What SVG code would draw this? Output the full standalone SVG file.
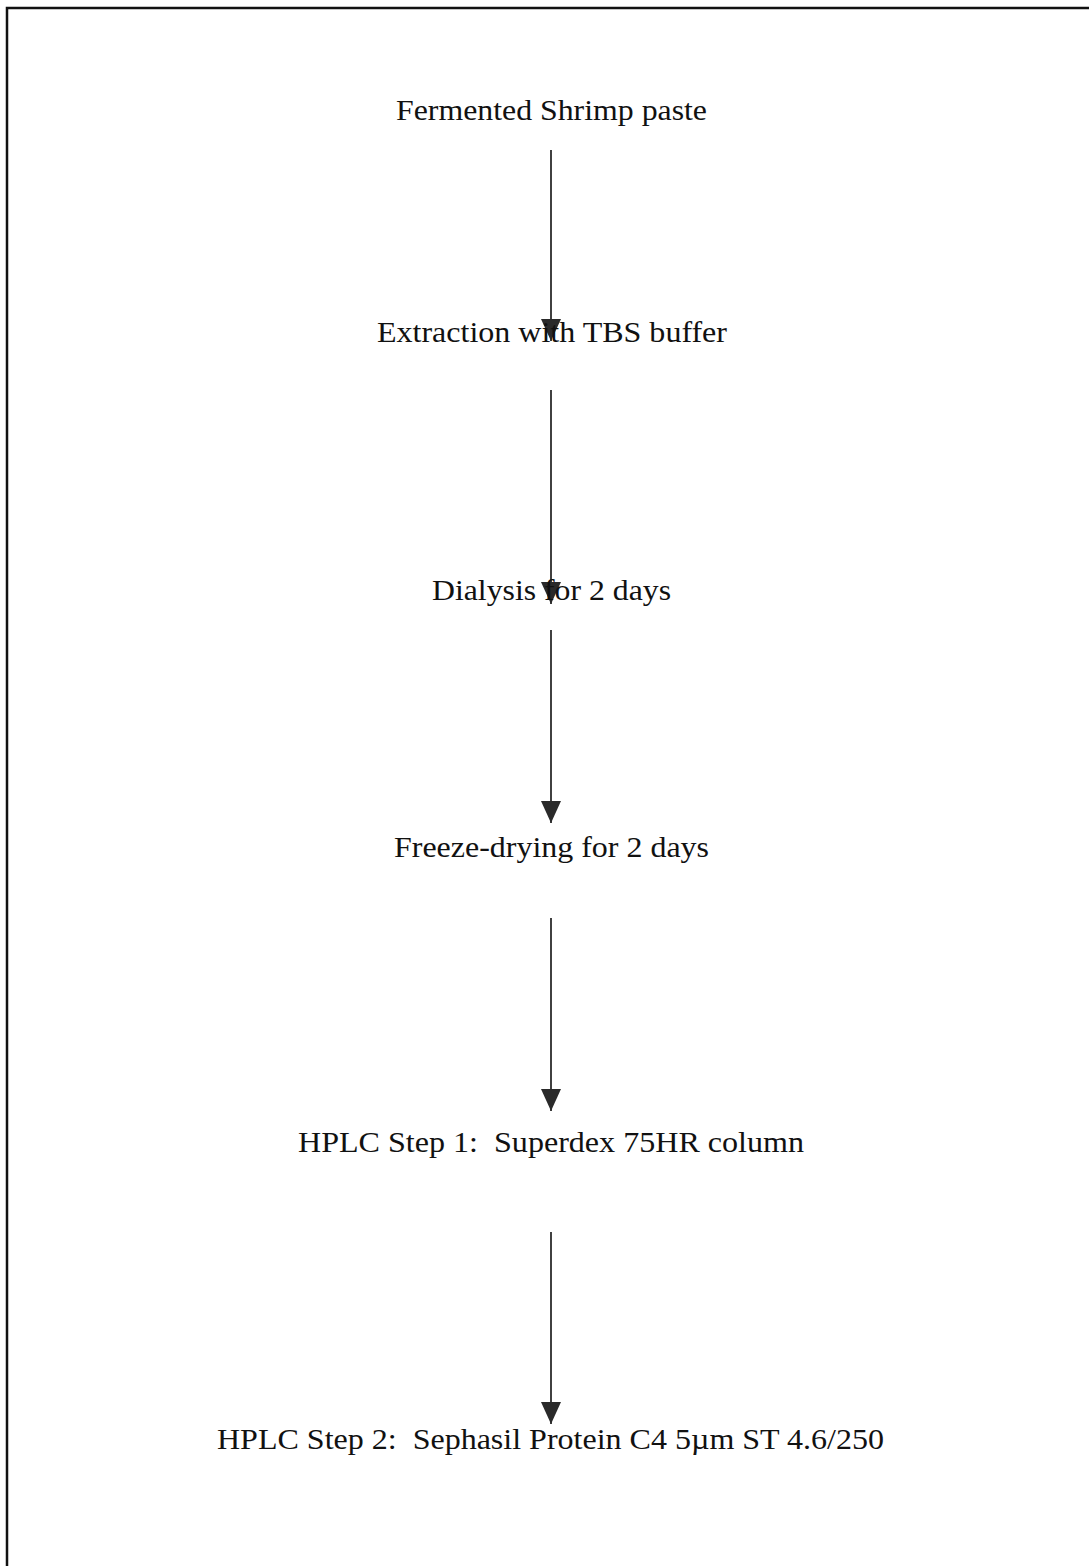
<svg xmlns="http://www.w3.org/2000/svg" width="1089" height="1566" viewBox="0 0 1089 1566">
  <style>
    .lbl { font-family: "Liberation Serif", "Times New Roman", serif; font-size: 30px; fill: #111; white-space: pre; }
    .conn { stroke: #111; stroke-width: 1.6; fill: none; marker-end: url(#arrow); }
  </style>
  <defs>
    <marker id="arrow" viewBox="0 0 22 20" refX="22" refY="10" markerWidth="22" markerHeight="20" markerUnits="userSpaceOnUse" orient="auto">
      <path d="M0,0 L22,10 L0,20 z" fill="#2a2a2a"/>
    </marker>
  </defs>
  <rect x="0" y="0" width="1089" height="1566" fill="#fff"/>
  <rect x="7" y="8" width="1200" height="1700" fill="none" stroke="#111" stroke-width="2.5"/>
  <g id="connectors">
    <line class="conn" x1="551" y1="150" x2="551" y2="341"/>
    <line class="conn" x1="551" y1="390" x2="551" y2="604"/>
    <line class="conn" x1="551" y1="630" x2="551" y2="823"/>
    <line class="conn" x1="551" y1="918" x2="551" y2="1111"/>
    <line class="conn" x1="551" y1="1232" x2="551" y2="1424"/>
  </g>
  <g id="n1"><text class="lbl" x="396" y="120" textLength="311" lengthAdjust="spacingAndGlyphs">Fermented Shrimp paste</text></g>
  <g id="n2"><text class="lbl" x="377" y="342" textLength="350" lengthAdjust="spacingAndGlyphs">Extraction with TBS buffer</text></g>
  <g id="n3"><text class="lbl" x="432" y="600" textLength="239" lengthAdjust="spacingAndGlyphs">Dialysis for 2 days</text></g>
  <g id="n4"><text class="lbl" x="394" y="857" textLength="315" lengthAdjust="spacingAndGlyphs">Freeze-drying for 2 days</text></g>
  <g id="n5"><text class="lbl" x="298" y="1152" textLength="506" lengthAdjust="spacingAndGlyphs">HPLC Step 1:  Superdex 75HR column</text></g>
  <g id="n6"><text class="lbl" x="217" y="1449" textLength="667" lengthAdjust="spacingAndGlyphs">HPLC Step 2:  Sephasil Protein C4 5µm ST 4.6/250</text></g>
</svg>
